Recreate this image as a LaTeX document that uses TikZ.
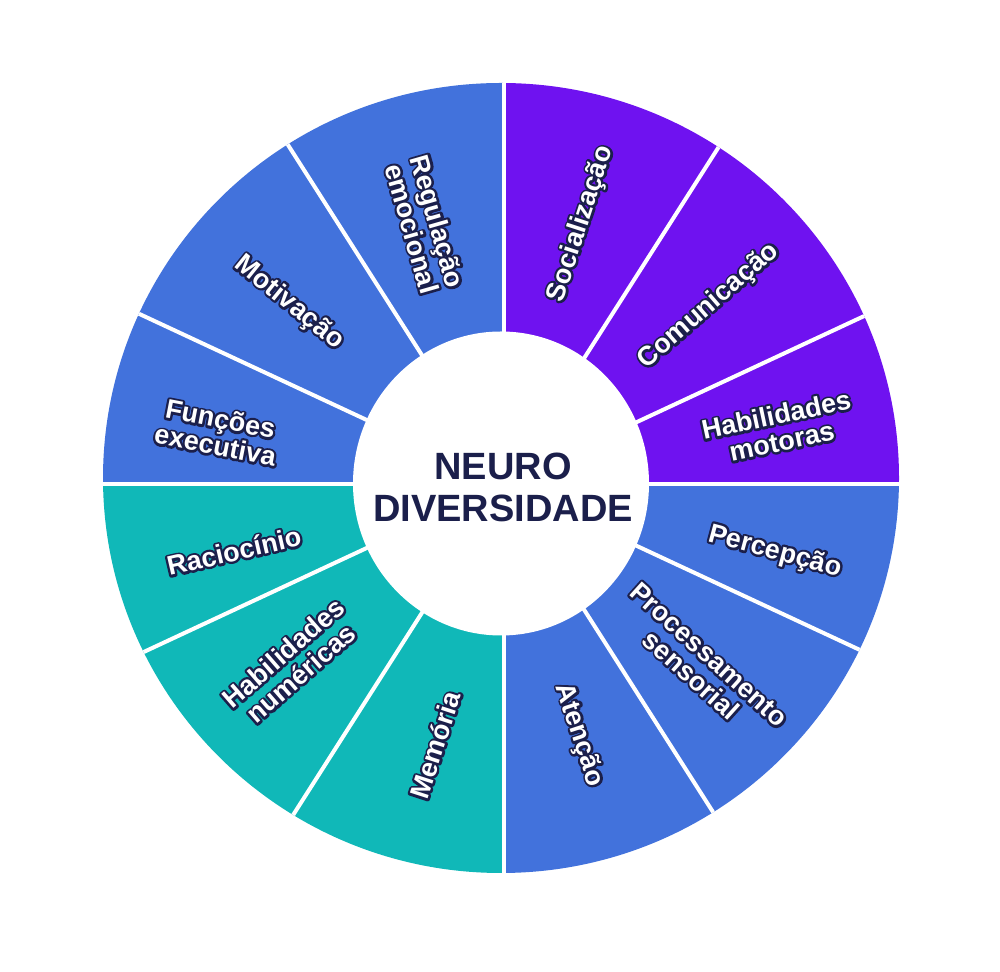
\documentclass[tikz,border=0pt]{standalone}
\usepackage{fontspec}
\setmainfont{Liberation Sans}
\usetikzlibrary{calc}
\definecolor{wblue}{HTML}{4272DC}
\definecolor{wpurp}{HTML}{6F12F0}
\definecolor{wteal}{HTML}{10B8B8}
\definecolor{navy}{HTML}{1B1F4B}
\tikzset{
  lab/.style={font=\fontsize{27}{27}\selectfont\bfseries, text=white, align=center, inner sep=0pt},
  divider/.style={white, line width=4pt},
  hub/.style={font=\fontsize{38}{42}\selectfont\bfseries, text=navy, align=center, inner sep=0pt}
}
\newcommand{\olt}[1]{\leavevmode\rlap{\special{pdf:literal direct 2 Tr 4.6 w 1 j}\color{navy}#1\special{pdf:literal direct 0 Tr}}#1}
\begin{document}
\begin{tikzpicture}[x=1pt,y=1pt]
\fill[white] (0,0) rectangle (1000,971);
\useasboundingbox (0,0) rectangle (1000,971);
\coordinate (C) at (504,487);
\begin{scope}
  \clip (501,493) ellipse [x radius=398, y radius=395];
  \fill[wpurp] (C) -- ($(C)+(0:800)$) -- ($(C)+(45:800)$) -- ($(C)+(90:800)$) -- cycle;
  \fill[wblue] (C) -- ($(C)+(90:800)$) -- ($(C)+(135:800)$) -- ($(C)+(180:800)$) -- cycle;
  \fill[wteal] (C) -- ($(C)+(180:800)$) -- ($(C)+(225:800)$) -- ($(C)+(270:800)$) -- cycle;
  \fill[wblue] (C) -- ($(C)+(270:800)$) -- ($(C)+(315:800)$) -- ($(C)+(360:800)$) -- cycle;
  \foreach \a in {0,25,57.5,90,122.5,155,180,205,237.5,270,302.5,335}{
    \draw[divider] (C) -- ++(\a:800);
  }
\end{scope}
\fill[white] (501,487.5) ellipse [x radius=148, y radius=152];
\node[hub] (hubtext) at (503,484) {NEURO\\DIVERSIDADE};
\node[lab,rotate=-74] (reg) at (425,746) {\olt{Regulação}\\\olt{emocional}};
\node[lab,rotate=-39] (mot) at (289,668) {\olt{Motivação}};
\node[lab,rotate=-11] (fun) at (218,539) {\olt{Funções}\\\olt{executiva}};
\node[lab,rotate=13] (rac) at (234,420) {\olt{Raciocínio}};
\node[lab,rotate=41] (num) at (292,308) {\olt{Habilidades}\\\olt{numéricas}};
\node[lab,rotate=72] (mem) at (435,226) {\olt{Memória}};
\node[lab,rotate=-72] (ate) at (579,236) {\olt{Atenção}};
\node[lab,rotate=-42] (pro) at (700,306) {\olt{Processamento}\\\olt{sensorial}};
\node[lab,rotate=-15] (per) at (775,419) {\olt{Percepção}};
\node[lab,rotate=12] (mtr) at (779,543) {\olt{Habilidades}\\\olt{motoras}};
\node[lab,rotate=41] (com) at (709,665) {\olt{Comunicação}};
\node[lab,rotate=72] (soc) at (581,747) {\olt{Socialização}};
\end{tikzpicture}
\end{document}
